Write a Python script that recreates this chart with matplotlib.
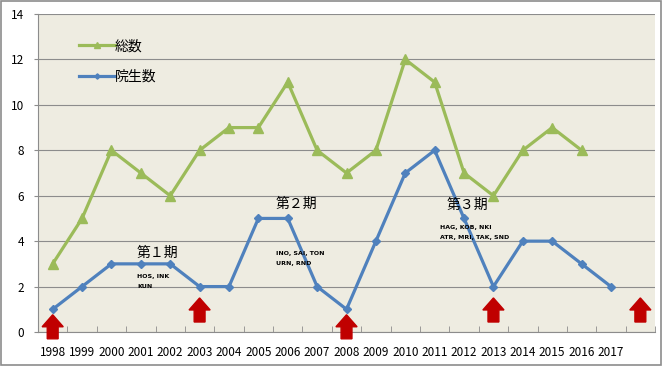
import numpy as np
import matplotlib.pyplot as plt
from matplotlib.patches import Rectangle

plt.rcParams['font.family'] = ['Noto Sans CJK JP', 'DejaVu Sans']

# Data
years = ['1998', '1999', '2000', '2001', '2002', '2003', '2004', '2005', '2006', '2007',
         '2008', '2009', '2010', '2011', '2012', '2013', '2014', '2015', '2016', '2017', '']
total = [3, 5, 8, 7, 6, 8, 9, 9, 11, 8, 7, 8, 12, 11, 7, 6, 8, 9, 8]
grad = [1, 2, 3, 3, 3, 2, 2, 5, 5, 2, 1, 4, 7, 8, 5, 2, 4, 4, 3, 2]
arrow_years = ['1998', '2003', '2008', '2013', '']
arrow_base = [-0.3, 0.44, -0.3, 0.44, 0.44]

# Period annotations: label, x index, y, member lines
period_labels = ['第１期', '第２期', '第３期']
period_x = [2.85, 7.57, 13.4]
period_y = [3.5, 5.65, 5.6]
members = [['HOS, INK', 'KUN'],
           ['INO, SAI, TON', 'URN, RND'],
           ['HAG, KOB, NKI', 'ATR, MRI, TAK, SND']]
member_x = [2.87, 7.6, 13.18]
member_y = [(2.45, 2.0), (3.45, 3.0), (4.6, 4.15)]

green = '#9BBB59'
blue = '#4F81BD'
red = '#C00000'

fig = plt.figure(figsize=(6.63, 3.66), dpi=100)
fig.patches.append(Rectangle((0.002, 0.003), 0.995, 0.994, transform=fig.transFigure,
                             fill=False, edgecolor='#8c8c8c', linewidth=1.2))
ax = fig.add_axes([0.0573, 0.0929, 0.9307, 0.8688])
ax.set_facecolor('#EEECE1')

ax.plot(np.arange(len(total)), total, color=green, linewidth=2.3, marker='^',
        markersize=6.5, label='総数', zorder=3)
ax.plot(np.arange(len(grad)), grad, color=blue, linewidth=2.3, marker='D',
        markersize=4.5, label='院生数', zorder=3)

# red arrows at the period start years
for yr, base in zip(arrow_years, arrow_base):
    i = years.index(yr)
    ax.arrow(i, base, 0, 1.06, width=0.37, head_width=0.72, head_length=0.53,
             length_includes_head=True, color=red, clip_on=False, zorder=4)

for lab, px, py in zip(period_labels, period_x, period_y):
    ax.text(px, py, lab, fontsize=10, ha='left', va='center')
for mem, mx, (y1, y2) in zip(members, member_x, member_y):
    ax.text(mx, y1, mem[0], fontsize=4.5, ha='left', va='center',
            family='DejaVu Sans', weight='bold')
    ax.text(mx, y2, mem[1], fontsize=4.5, ha='left', va='center',
            family='DejaVu Sans', weight='bold')

ax.set_xlim(-0.5, len(years) - 0.5)
ax.set_ylim(0, 14)
ax.set_yticks(range(0, 15, 2))
ax.set_xticks(range(len(years)))
ax.set_xticklabels(years, fontsize=8.5)
ax.set_xticks(np.arange(-0.5, len(years), 1), minor=True)
ax.tick_params(axis='x', which='major', length=0, pad=10)
ax.tick_params(axis='x', which='minor', direction='in', length=4, color='#8c8c8c')
ax.tick_params(axis='y', labelsize=8.5, length=3, color='#8c8c8c', pad=7)
ax.grid(axis='y', color='#8c8c8c', linewidth=0.8)
ax.set_axisbelow(True)
for side in ['top', 'right']:
    ax.spines[side].set_visible(False)
for side in ['left', 'bottom']:
    ax.spines[side].set_color('#8c8c8c')

ax.legend(loc='upper left', bbox_to_anchor=(0.057, 0.938), frameon=False, fontsize=10,
          handlelength=2.6, handletextpad=0.0, labelspacing=1.19, borderaxespad=0,
          markerscale=0.6)

fig.savefig('out.png', dpi=100)
